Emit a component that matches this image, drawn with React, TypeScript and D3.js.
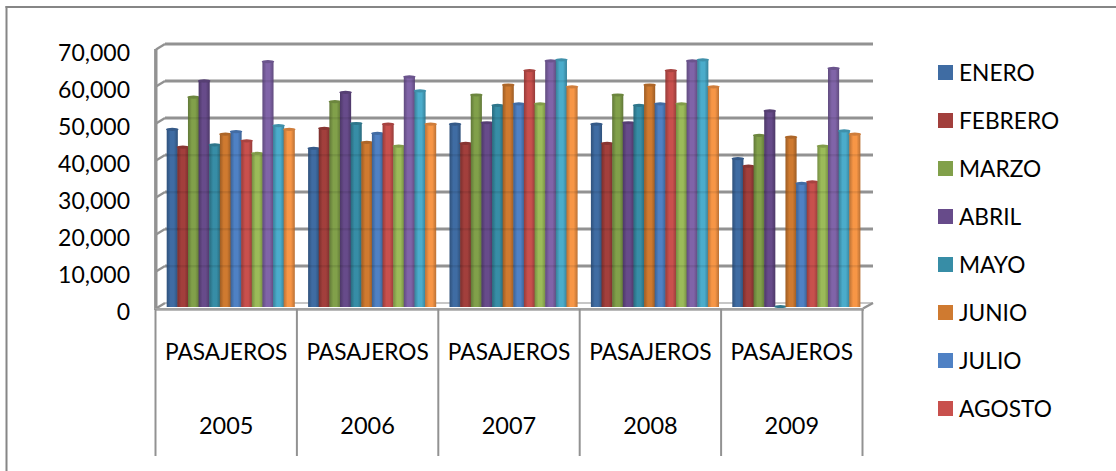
import React from "react";
import * as d3 from "d3";

const years = ["2005", "2006", "2007", "2008", "2009"];
const categoryLabel = "PASAJEROS";
const monthNames = ["ENERO", "FEBRERO", "MARZO", "ABRIL", "MAYO", "JUNIO", "JULIO", "AGOSTO", "SEPTIEMBRE", "OCTUBRE", "NOVIEMBRE", "DICIEMBRE"];
const legendNames = monthNames.slice(0, 8);
const enero = [48000, 42900, 49400, 49400, 40100];
const febrero = [43200, 48300, 44200, 44200, 38100];
const marzo = [56700, 55500, 57300, 57300, 46400];
const abril = [61100, 58000, 49800, 49800, 53000];
const mayo = [43800, 49600, 54500, 54500, 100];
const junio = [46700, 44500, 60000, 60000, 45900];
const julio = [47400, 46900, 54900, 54900, 33400];
const agosto = [44900, 49400, 63900, 63900, 33800];
const septiembre = [41500, 43500, 54900, 54900, 43500];
const octubre = [66300, 62200, 66500, 66500, 64500];
const noviembre = [49000, 58400, 66800, 66800, 47600];
const diciembre = [48000, 49400, 59500, 59500, 46700];
const seriesValues = [enero, febrero, marzo, abril, mayo, junio, julio, agosto, septiembre, octubre, noviembre, diciembre];
const colors = ["#3F6CA3", "#A23F3C", "#81A04A", "#674B8A", "#378DA6", "#CF7A30", "#4F81C4", "#C8504D", "#9BBB59", "#8064A8", "#4BACCB", "#F79646"];
const tickValues = [0, 10000, 20000, 30000, 40000, 50000, 60000, 70000];

const FONT = "Lato, Carlito, sans-serif";
const GRID = "#929292";

const y = d3.scaleLinear().domain([0, 70000]).range([307, 48]);
const x0 = d3.scaleBand<string>().domain(years).range([155.5, 862.5]);
const x1 = d3.scaleBand<number>().domain(d3.range(12)).range([11.2, 138.8]);
const legendY = d3.scalePoint<string>().domain(legendNames).range([72.5, 408.5]);
const fmt = d3.format(",");

export default function App() {
  const w = x1.bandwidth();
  const backTop = 4;
  return (
    <svg width={1116} height={471} style={{ position: "absolute", left: 0, top: 0, background: "#fff" }} fontFamily={FONT}>
      <defs>
        {colors.map((c, i) => {
          const base = d3.color(c)!;
          return (
            <linearGradient key={i} id={`cyl${i}`} x1="0" x2="1" y1="0" y2="0">
              <stop offset="0" stopColor={base.darker(0.8).formatHex()} />
              <stop offset="0.35" stopColor={base.formatHex()} />
              <stop offset="0.65" stopColor={base.formatHex()} />
              <stop offset="1" stopColor={base.darker(0.8).formatHex()} />
            </linearGradient>
          );
        })}
      </defs>

      {/* outer frame */}
      <line x1={6.5} x2={6.5} y1={6} y2={471} stroke="#868686" strokeWidth={2} />
      <line x1={5.5} x2={1116} y1={7} y2={7} stroke="#868686" strokeWidth={2.2} />

      {/* back wall gridlines and side-wall ticks */}
      {tickValues.map((t) => (
        <g key={t} stroke={GRID} fill="none">
          <line x1={165} x2={873} y1={y(t) - backTop} y2={y(t) - backTop} strokeWidth={t === 0 ? 1.6 : 3} stroke={t === 0 ? "#b5b5b5" : GRID} />
          <line x1={156} x2={165} y1={y(t) + 1.5} y2={y(t) - backTop} strokeWidth={2.4} />
        </g>
      ))}
      <line x1={155.8} x2={155.8} y1={49} y2={310} stroke={GRID} strokeWidth={3.4} />
      <line x1={863} x2={873} y1={308.5} y2={303} stroke={GRID} strokeWidth={2.4} />

      {/* bars */}
      {years.map((yr, g) =>
        seriesValues.map((vals, s) => {
          const left = x0(yr)! + x1(s)!;
          const top = y(vals[g]);
          const bw = w + 0.5;
          return (
            <g key={`${yr}-${s}`}>
              <rect x={left} y={top} width={bw} height={307 - top} fill={`url(#cyl${s})`} />
              {tickValues.slice(1).filter((t) => t < vals[g]).map((t) => (
                <rect key={t} x={left} y={y(t) - 5} width={bw} height={2.4} fill="#000" opacity={0.08} />
              ))}
              <ellipse cx={left + bw / 2} cy={top} rx={bw / 2 + 0.7} ry={1.6} fill={d3.color(colors[s])!.darker(0.5).formatHex()} />
            </g>
          );
        })
      )}

      {/* front axis and category dividers */}
      <line x1={155} x2={864} y1={309.3} y2={309.3} stroke="#a3a3a3" strokeWidth={2.8} />
      {[...years.map((yr) => x0(yr)!), x0.range()[1]].map((px, i) => (
        <line key={i} x1={px} x2={px} y1={309} y2={456} stroke={GRID} strokeWidth={2} />
      ))}

      {/* y tick labels */}
      {tickValues.map((t) => (
        <text key={t} x={130} y={y(t) + 4.5} dy="0.35em" textAnchor="end" fontSize={23} fill="#000">
          {fmt(t)}
        </text>
      ))}

      {/* category labels */}
      {years.map((yr) => (
        <g key={yr} textAnchor="middle" fill="#000">
          <text x={x0(yr)! + x0.bandwidth() / 2} y={352.5} dy="0.35em" fontSize={22.7}>{categoryLabel}</text>
          <text x={x0(yr)! + x0.bandwidth() / 2} y={425.5} dy="0.35em" fontSize={23.5}>{yr}</text>
        </g>
      ))}

      {/* legend */}
      {legendNames.map((name, i) => (
        <g key={name}>
          <rect x={938} y={legendY(name)! - 7.5} width={15} height={15} fill={colors[i]} />
          <text x={959} y={legendY(name)! + 0.5} dy="0.35em" fontSize={22.7} fill="#000">{name}</text>
        </g>
      ))}
    </svg>
  );
}
